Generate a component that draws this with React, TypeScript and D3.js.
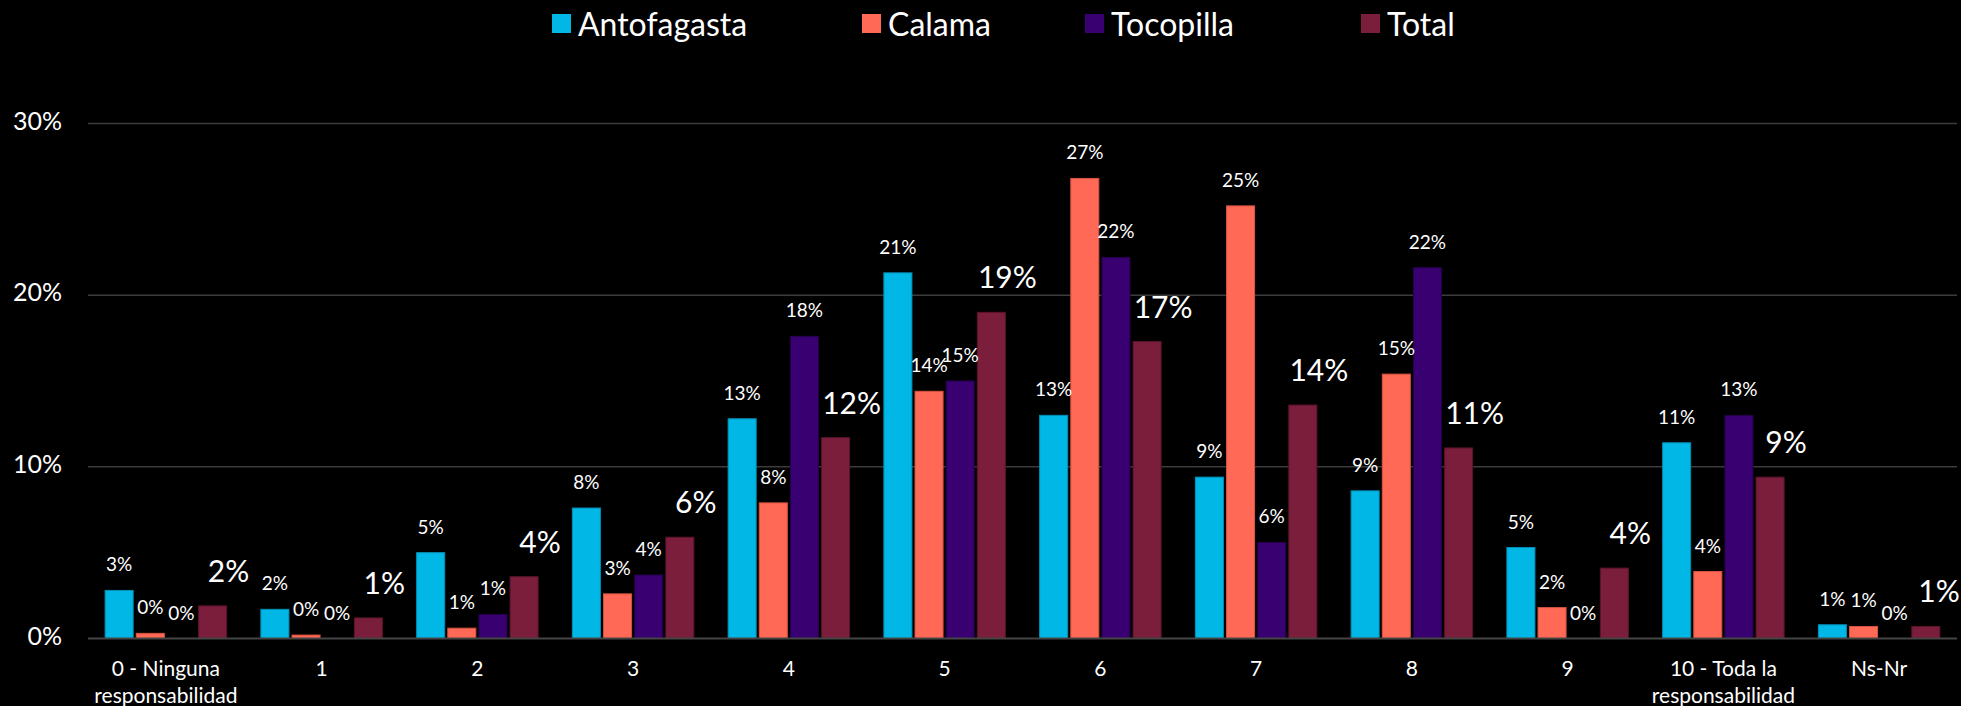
import React from "react";
import * as d3 from "d3";

const categories = [
  "0 - Ninguna responsabilidad", "1", "2", "3", "4", "5", "6", "7", "8", "9",
  "10 - Toda la responsabilidad", "Ns-Nr",
];
const seriesNames = ["Antofagasta", "Calama", "Tocopilla", "Total"];
const antofagasta = [0.028, 0.017, 0.050, 0.076, 0.128, 0.213, 0.130, 0.094, 0.086, 0.053, 0.114, 0.008];
const calama = [0.003, 0.002, 0.006, 0.026, 0.079, 0.144, 0.268, 0.252, 0.154, 0.018, 0.039, 0.007];
const tocopilla = [0, 0, 0.014, 0.037, 0.176, 0.150, 0.222, 0.056, 0.216, 0, 0.130, 0];
const total = [0.019, 0.012, 0.036, 0.059, 0.117, 0.190, 0.173, 0.136, 0.111, 0.041, 0.094, 0.007];
const yTicks = [0, 0.1, 0.2, 0.3];
const colors = ["#00B7E6", "#FF6955", "#380070", "#7A1E3C"];
const strokes = ["#0090b8", "#d9533f", "#24004a", "#5a142c"];

const W = 1961;
const H = 706;
const FONT = "Lato, 'Open Sans', sans-serif";

export default function App() {
  const seriesValues = [antofagasta, calama, tocopilla, total];
  const x0 = d3.scaleBand<string>().domain(categories).range([88, 1957]).paddingInner(0.2).paddingOuter(0.1);
  const x1 = d3.scaleBand<string>().domain(seriesNames).range([0, x0.bandwidth()]).paddingInner(0.1).paddingOuter(0.05);
  const y = d3.scaleLinear().domain([0, 0.3]).range([638.5, 123.5]);
  const fmt = (v: number) => Math.round(v * 100) + "%";

  const legendX = [552, 862, 1085, 1361];

  const wrap = (s: string) => {
    const i = s.indexOf(" responsabilidad");
    return i >= 0 ? [s.slice(0, i), "responsabilidad"] : [s];
  };

  return (
    <svg width={W} height={H} style={{ position: "fixed", left: 0, top: 0, background: "#000" }} fontFamily={FONT}>
      <rect x={0} y={0} width={W} height={H} fill="#000" />
      {yTicks.filter((t) => t > 0).map((t) => (
        <line key={t} x1={88} x2={1957} y1={y(t)} y2={y(t)} stroke="#3c3c3c" strokeWidth={1.5} />
      ))}
      {yTicks.map((t) => (
        <text key={"yt" + t} x={62} y={y(t)} textAnchor="end" dominantBaseline="middle" fill="#fff" fontSize={25}>
          {fmt(t)}
        </text>
      ))}
      {seriesNames.map((s, si) =>
        categories.map((c, ci) => {
          const v = seriesValues[si][ci];
          const bx = (x0(c) as number) + (x1(s) as number);
          return (
            <rect key={s + c} x={bx} y={y(v)} width={x1.bandwidth()} height={y(0) - y(v)}
              fill={colors[si]} stroke={v > 0 ? strokes[si] : "none"} strokeWidth={1} />
          );
        })
      )}
      <line x1={88} x2={1957} y1={y(0)} y2={y(0)} stroke="#444" strokeWidth={2} />
      {seriesNames.map((s, si) =>
        categories.map((c, ci) => {
          const v = seriesValues[si][ci];
          const cx = (x0(c) as number) + (x1(s) as number) + x1.bandwidth() / 2;
          const isTotal = si === 3;
          const tx = isTotal ? Math.min(cx + 16, W - 22) : cx;
          return (
            <text key={"l" + s + c} x={tx} y={y(v) - (isTotal ? 24 : 19)}
              textAnchor="middle" fill="#fff" fontSize={isTotal ? 30 : 19}>
              {fmt(v)}
            </text>
          );
        })
      )}
      {categories.map((c) => {
        const cx = (x0(c) as number) + x0.bandwidth() / 2;
        const lines = wrap(c);
        return (
          <text key={"x" + c} x={cx} y={676} textAnchor="middle" fill="#fff" fontSize={21}>
            {lines.map((ln, i) => (
              <tspan key={i} x={cx} dy={i === 0 ? 0 : 27}>{ln}</tspan>
            ))}
          </text>
        );
      })}
      {seriesNames.map((s, si) => (
        <g key={"lg" + s}>
          <rect x={legendX[si]} y={14} width={19} height={19} fill={colors[si]} />
          <text x={legendX[si] + 26} y={36} fill="#fff" fontSize={32}>{s}</text>
        </g>
      ))}
    </svg>
  );
}
